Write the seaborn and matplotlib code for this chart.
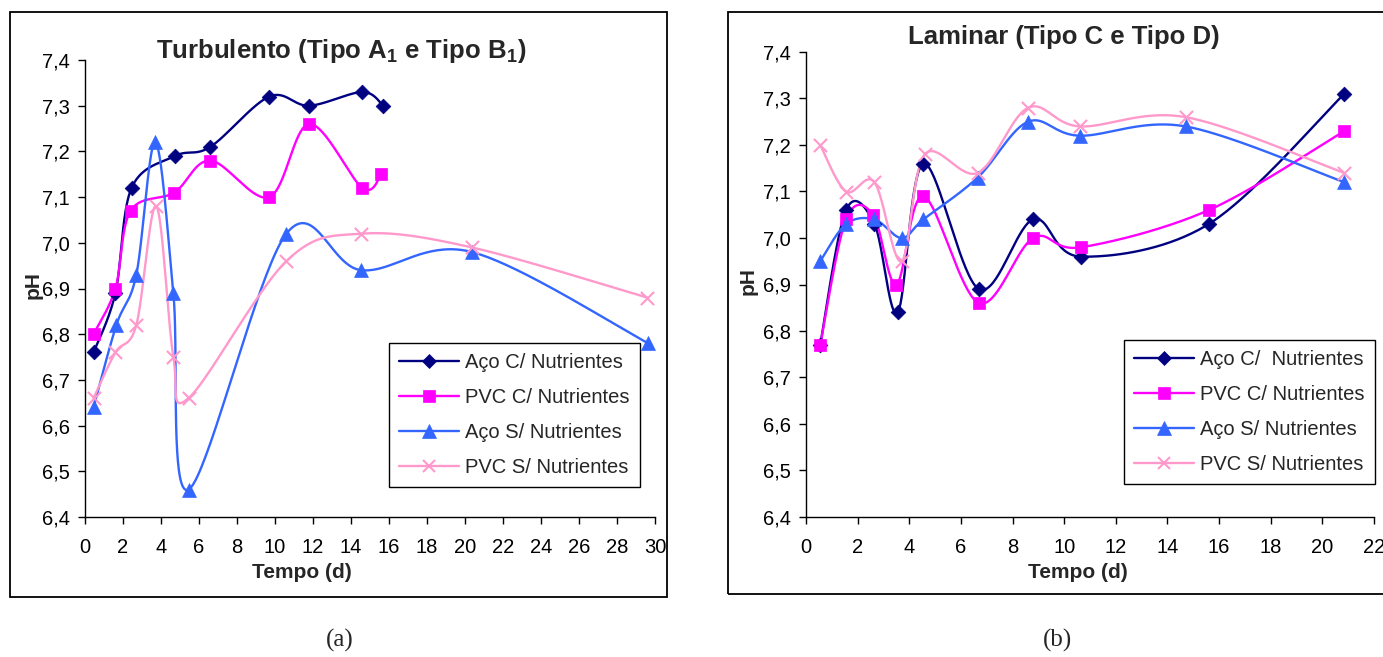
import numpy as np
import matplotlib
matplotlib.use("Agg")
import matplotlib.pyplot as plt
import seaborn as sns
from matplotlib.lines import Line2D
from matplotlib.patches import Rectangle
from matplotlib.ticker import FuncFormatter, MultipleLocator

# ---------------- data ----------------
series_names_a = ["Aço C/ Nutrientes", "PVC C/ Nutrientes", "Aço S/ Nutrientes", "PVC S/ Nutrientes"]
series_names_b = ["Aço C/  Nutrientes", "PVC C/ Nutrientes", "Aço S/ Nutrientes", "PVC S/ Nutrientes"]

# (a) Turbulento
a_aco_c_x = [0.45, 1.6, 2.45, 4.75, 6.6, 9.7, 11.8, 14.6, 15.7]
a_aco_c_y = [6.76, 6.89, 7.12, 7.19, 7.21, 7.32, 7.30, 7.33, 7.30]
a_pvc_c_x = [0.45, 1.6, 2.4, 4.7, 6.6, 9.7, 11.8, 14.6, 15.6]
a_pvc_c_y = [6.80, 6.90, 7.07, 7.11, 7.18, 7.10, 7.26, 7.12, 7.15]
a_aco_s_x = [0.45, 1.65, 2.7, 3.7, 4.65, 5.45, 10.6, 14.55, 20.35, 29.65]
a_aco_s_y = [6.64, 6.82, 6.93, 7.22, 6.89, 6.46, 7.02, 6.94, 6.98, 6.78]
a_pvc_s_x = [0.45, 1.6, 2.7, 3.75, 4.65, 5.45, 10.6, 14.55, 20.35, 29.6]
a_pvc_s_y = [6.66, 6.76, 6.82, 7.08, 6.75, 6.66, 6.96, 7.02, 6.99, 6.88]

# (b) Laminar
b_aco_c_x = [0.55, 1.55, 2.65, 3.55, 4.55, 6.7, 8.8, 10.65, 15.6, 20.85]
b_aco_c_y = [6.77, 7.06, 7.03, 6.84, 7.16, 6.89, 7.04, 6.96, 7.03, 7.31]
b_pvc_c_x = [0.55, 1.55, 2.6, 3.5, 4.55, 6.7, 8.8, 10.65, 15.6, 20.85]
b_pvc_c_y = [6.77, 7.04, 7.05, 6.90, 7.09, 6.86, 7.00, 6.98, 7.06, 7.23]
b_aco_s_x = [0.55, 1.55, 2.65, 3.7, 4.55, 6.65, 8.6, 10.6, 14.7, 20.85]
b_aco_s_y = [6.95, 7.03, 7.04, 7.00, 7.04, 7.13, 7.25, 7.22, 7.24, 7.12]
b_pvc_s_x = [0.55, 1.55, 2.65, 3.7, 4.6, 6.65, 8.6, 10.6, 14.7, 20.85]
b_pvc_s_y = [7.20, 7.10, 7.12, 6.95, 7.18, 7.14, 7.28, 7.24, 7.26, 7.14]

title_a = r"Turbulento (Tipo A$_\mathbf{1}$ e Tipo B$_\mathbf{1}$)"
title_b = "Laminar (Tipo C e Tipo D)"
xlabel = "Tempo (d)"
ylabel = "pH"

colors = ["#000080", "#FF00FF", "#3366FF", "#FF99CC"]
markers = ["D", "s", "^", "x"]
msizes = [7.5, 8.5, 10, 9.5]

# ---------------- style ----------------
sns.set_style("ticks")
FONT = ["Liberation Sans Narrow", "Liberation Sans", "DejaVu Sans"]
plt.rcParams["font.family"] = FONT
plt.rcParams["mathtext.fontset"] = "custom"
plt.rcParams["mathtext.rm"] = "Liberation Sans"
plt.rcParams["mathtext.bf"] = "Liberation Sans:bold"


def smooth(xs, ys, sx, sy, n=40):
    """Excel-like smoothed line (cubic Bezier, control points at 1/6 of neighbour chord)."""
    P = np.column_stack([np.asarray(xs, float) * sx, np.asarray(ys, float) * sy])
    out = []
    t = np.linspace(0, 1, n)[:, None]
    for i in range(len(P) - 1):
        p0 = P[i - 1] if i > 0 else P[i]
        p1, p2 = P[i], P[i + 1]
        p3 = P[i + 2] if i + 2 < len(P) else P[i + 1]
        c1 = p1 + (p2 - p0) / 6.0
        c2 = p2 - (p3 - p1) / 6.0
        seg = (1 - t) ** 3 * p1 + 3 * (1 - t) ** 2 * t * c1 + 3 * (1 - t) * t ** 2 * c2 + t ** 3 * p2
        out.append(seg if i == 0 else seg[1:])
    S = np.vstack(out)
    return S[:, 0] / sx, S[:, 1] / sy


W, H = 1383, 657
fig = plt.figure(figsize=(W / 100, H / 100), dpi=100)


def px_axes(x0, x1, y0, y1):
    return fig.add_axes([x0 / W, 1 - y1 / H, (x1 - x0) / W, (y1 - y0) / H])


ax_a = px_axes(85, 655, 60, 517)
ax_b = px_axes(806, 1374, 52, 517)

panels = [
    (ax_a, 30, [(a_aco_c_x, a_aco_c_y), (a_pvc_c_x, a_pvc_c_y), (a_aco_s_x, a_aco_s_y), (a_pvc_s_x, a_pvc_s_y)], series_names_a),
    (ax_b, 22, [(b_aco_c_x, b_aco_c_y), (b_pvc_c_x, b_pvc_c_y), (b_aco_s_x, b_aco_s_y), (b_pvc_s_x, b_pvc_s_y)], series_names_b),
]

TICK_FS = 14.5
for ax, xmax, data, names in panels:
    bb = ax.get_position()
    sx = bb.width * W / xmax
    sy = bb.height * H / 1.0
    for (xs, ys), c, m, ms in zip(data, colors, markers, msizes):
        cx, cy = smooth(xs, ys, sx, sy)
        sns.lineplot(x=cx, y=cy, sort=False, estimator=None, color=c, lw=1.7, ax=ax, legend=False)
        if m == "x":
            sns.scatterplot(x=xs, y=ys, marker=m, s=ms ** 2, color=c, linewidth=1.5, ax=ax, legend=False, zorder=5)
        else:
            sns.scatterplot(x=xs, y=ys, marker=m, s=ms ** 2, color=c, edgecolor=c, linewidth=0.5, ax=ax, legend=False, zorder=5)
    ax.set_xlim(0, xmax)
    ax.set_ylim(6.4, 7.4)
    ax.xaxis.set_major_locator(MultipleLocator(2))
    ax.yaxis.set_major_locator(MultipleLocator(0.1))
    ax.yaxis.set_major_formatter(FuncFormatter(lambda v, p: f"{v:.1f}".replace(".", ",")))
    ax.tick_params(axis="both", direction="out", length=5, width=1, labelsize=TICK_FS, colors="black", pad=6)
    ax.tick_params(axis="x", pad=10)
    for s in ["top", "right"]:
        ax.spines[s].set_visible(False)
    for s in ["left", "bottom"]:
        ax.spines[s].set_color("black")
        ax.spines[s].set_linewidth(1)
    ax.set_xlabel("")
    ax.set_ylabel("")
    ax.set_facecolor("none")
    handles = [Line2D([], [], color=c, marker=m, markersize=ms * 0.95, lw=1.7,
                      markeredgewidth=1.5 if m == "x" else 0.5)
               for c, m, ms in zip(colors, markers, msizes)]
    if ax is ax_a:
        anchor = ((640 - 85) / 570, (517 - 343) / 457)
    else:
        anchor = ((1375 - 806) / 568, (517 - 340) / 465)
    leg = ax.legend(handles, names, loc="upper right", bbox_to_anchor=anchor, frameon=True,
                    fancybox=False, edgecolor="black", framealpha=1, fontsize=TICK_FS,
                    handlelength=3.0, handletextpad=0.3, labelspacing=0.8, borderpad=0.5,
                    borderaxespad=0)
    leg.get_frame().set_linewidth(1)

# titles and axis labels (placed in figure pixels)
def ftext(x, y, s, **kw):
    fig.text(x / W, 1 - y / H, s, **kw)

ftext(341, 51, title_a, ha="center", va="center", fontsize=18.5, fontweight="bold")
ftext(1064, 37, title_b, ha="center", va="center", fontsize=18.5, fontweight="bold")
ftext(302, 572, xlabel, ha="center", va="center", fontsize=15, fontweight="bold")
ftext(1078, 572, xlabel, ha="center", va="center", fontsize=15, fontweight="bold")
ftext(33, 285, ylabel, ha="center", va="center", fontsize=15, fontweight="bold", rotation=90)
ftext(748, 281, ylabel, ha="center", va="center", fontsize=15, fontweight="bold", rotation=90)
ftext(340, 640, "(a)", ha="center", va="center", fontsize=18, family=["Liberation Serif", "DejaVu Serif"])
ftext(1058, 640, "(b)", ha="center", va="center", fontsize=18, family=["Liberation Serif", "DejaVu Serif"])

# chart frames
fig.add_artist(Rectangle((10 / W, 1 - 597 / H), 657 / W, 585 / H, transform=fig.transFigure,
                         fill=False, ec="black", lw=1.3))
fig.add_artist(Rectangle((728 / W, 1 - 594 / H), 700 / W, 582 / H, transform=fig.transFigure,
                         fill=False, ec="black", lw=1.3))

fig.savefig("out.png", dpi=100, facecolor="white")
